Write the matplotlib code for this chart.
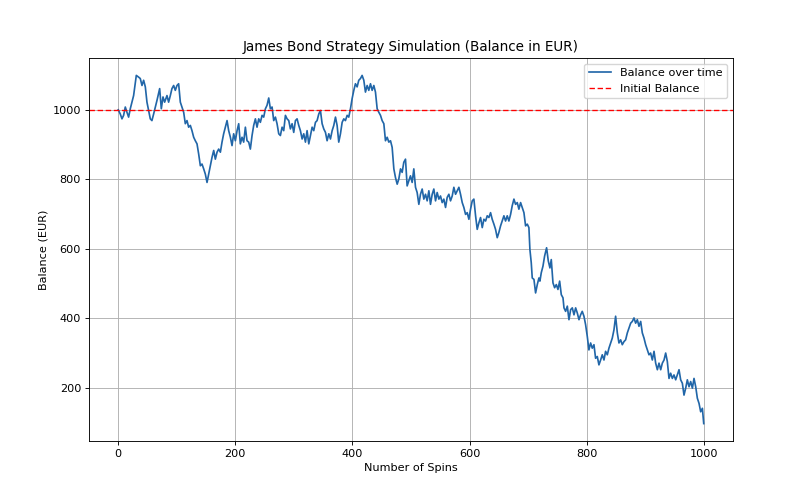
import matplotlib
matplotlib.use("Agg")
import matplotlib.pyplot as plt

# --- Data ---
spins = [
    0, 3.4, 6.3, 9.1, 12.0, 14.8, 17.7, 20.5, 26.2, 30.8, 34.8, 37.6, 40.5, 43.3,
    46.2, 49.0, 51.8, 54.7, 57.5, 60.4, 66.1, 70.7, 73.5, 76.4, 79.2, 83.2, 86.0,
    88.9, 91.7, 94.6, 97.4, 100.3, 103.1, 106.0, 108.8, 111.7, 114.5, 117.4,
    120.2, 123.1, 125.9, 128.8, 131.6, 134.5, 137.3, 140.2, 143.0, 145.9, 148.7,
    151.6, 154.4, 157.3, 160.1, 163.0, 165.8, 168.7, 171.5, 174.4, 177.2, 180.0,
    182.9, 185.8, 188.6, 191.5, 194.3, 197.1, 200.0, 202.9, 205.7, 208.5, 211.4,
    214.2, 217.1, 219.9, 222.8, 225.6, 228.5, 231.3, 234.2, 237.0, 239.9, 242.7,
    245.6, 248.4, 251.3, 254.1, 257.0, 259.8, 262.7, 265.5, 268.4, 271.2, 274.1,
    276.9, 279.8, 282.6, 285.5, 288.3, 291.2, 294.0, 296.9, 299.7, 302.6, 305.4,
    308.3, 311.1, 314.0, 316.8, 319.7, 322.5, 325.4, 328.2, 331.1, 333.9, 336.8,
    339.6, 342.5, 345.3, 348.2, 351.0, 353.9, 356.7, 359.6, 362.4, 365.3, 368.1,
    371.0, 373.8, 376.6, 379.5, 382.4, 385.2, 388.0, 390.9, 393.7, 396.6, 399.4,
    402.3, 405.1, 408.0, 410.8, 413.7, 416.5, 419.4, 422.2, 425.1, 427.9, 430.8,
    433.6, 436.5, 439.3, 442.2, 445.0, 447.9, 450.7, 453.6, 456.4, 459.3, 462.1,
    465.0, 467.8, 470.7, 473.5, 476.4, 479.2, 482.1, 484.9, 487.7, 490.6, 493.4,
    496.3, 499.1, 502.0, 504.8, 507.7, 510.5, 513.4, 516.2, 519.1, 521.9, 524.8,
    527.6, 530.5, 533.3, 536.2, 539.0, 541.9, 544.7, 547.6, 550.4, 553.3, 556.1,
    559.0, 561.8, 564.7, 567.5, 570.4, 573.2, 576.1, 578.9, 581.8, 584.6, 587.5,
    590.3, 593.2, 596.0, 598.9, 601.7, 604.6, 607.4, 610.3, 613.1, 616.0, 618.8,
    621.7, 624.5, 627.4, 630.2, 633.1, 635.9, 638.7, 641.6, 644.4, 647.3, 650.1,
    653.0, 655.8, 658.7, 661.5, 664.4, 667.2, 670.1, 672.9, 675.8, 678.6, 681.5,
    684.3, 687.2, 690.0, 692.9, 695.7, 698.6, 701.4, 703.1, 705.4, 707.1, 710.0,
    712.8, 715.7, 718.5, 720.2, 722.5, 725.4, 728.2, 731.6, 734.5, 737.3, 739.6,
    742.5, 745.3, 748.2, 751.0, 753.9, 756.7, 759.6, 761.3, 764.1, 767.0, 769.8,
    772.7, 775.5, 778.4, 781.2, 784.1, 786.9, 789.7, 792.5, 795.4, 798.2, 801.1,
    803.9, 806.8, 809.6, 812.5, 815.3, 818.2, 821.0, 823.9, 826.7, 829.6, 832.4,
    835.3, 838.1, 841.0, 843.8, 846.7, 849.5, 852.4, 855.2, 858.1, 860.9, 863.8,
    866.6, 869.5, 872.3, 875.2, 878.0, 880.9, 883.7, 886.6, 889.4, 892.3, 895.1,
    898.0, 900.8, 903.7, 906.5, 909.3, 912.2, 915.1, 917.9, 920.8, 923.6, 926.5,
    929.3, 932.2, 935.0, 937.8, 940.7, 943.5, 946.4, 949.2, 952.1, 954.9, 957.8,
    960.6, 963.5, 966.3, 969.2, 972.0, 974.9, 977.7, 980.6, 983.4, 986.3, 989.1,
    992.0, 994.8, 997.7, 1000,
]
balance = [
    1000, 988, 974, 984, 1008, 993, 979, 1003, 1041, 1099, 1094, 1090, 1070, 1085,
    1066, 1022, 998, 974, 969, 988, 1027, 1061, 1003, 1037, 1022, 1041, 1022,
    1041, 1061, 1070, 1056, 1070, 1075, 1022, 1008, 993, 960, 969,
    950, 955, 940, 921, 911, 902, 873, 839, 844, 830, 815,
    791, 815, 839, 863, 883, 858, 878, 887, 878, 907, 931,
    950, 969, 940, 921, 897, 931, 911, 940, 960, 902, 921,
    907, 950, 911, 907, 887, 926, 955, 974, 950, 974, 964,
    984, 979, 1003, 1013, 1034, 1003, 1008, 969, 979, 960, 931,
    926, 950, 940, 984, 974, 969, 945, 960, 935, 969, 974,
    955, 940, 916, 931, 907, 940, 902, 926, 950, 940, 964,
    969, 988, 998, 960, 945, 935, 911, 931, 916, 940, 955,
    979, 955, 907, 931, 964, 974, 969, 984, 979, 1003, 1032,
    1056, 1075, 1066, 1085, 1090, 1099, 1085, 1051, 1070, 1056, 1075,
    1056, 1070, 1051, 1003, 993, 984, 969, 960, 911, 921, 907,
    911, 892, 830, 805, 786, 801, 830, 820, 849, 858, 781,
    796, 810, 791, 830, 777, 762, 728, 757, 772, 743, 757,
    738, 767, 728, 757, 772, 738, 762, 743, 752, 733, 743,
    719, 748, 757, 738, 752, 777, 757, 767, 777, 757, 733,
    719, 699, 704, 685, 714, 738, 743, 695, 656, 675, 690,
    661, 685, 680, 695, 690, 704, 685, 671, 656, 632, 647,
    666, 680, 695, 680, 695, 680, 699, 724, 743, 728, 733,
    714, 733, 719, 704, 666, 671, 661, 598, 560, 516, 512,
    473, 497, 516, 507, 531, 550, 579, 603, 565, 545, 569,
    502, 488, 497, 483, 507, 468, 459, 430, 420, 435, 396,
    425, 430, 410, 430, 415, 396, 410, 420, 406, 382, 348,
    309, 329, 314, 324, 285, 290, 266, 280, 295, 280, 305,
    295, 314, 329, 343, 367, 406, 358, 329, 338, 324, 333,
    338, 358, 372, 386, 391, 401, 386, 396, 377, 391, 358,
    343, 324, 309, 295, 300, 280, 305, 271, 252, 271, 252,
    271, 280, 300, 276, 227, 242, 227, 237, 223, 237, 252,
    223, 213, 179, 199, 223, 203, 218, 199, 227, 203, 170,
    155, 131, 141, 97,
]
initial_balance = 1000

s = 0.811  # reference is a scaled-down 10-inch figure

fig = plt.figure(figsize=(8.11, 4.97), dpi=100)
ax = fig.add_axes([89 / 811, 1 - 441 / 497, (733 - 89) / 811, (441 - 58) / 497])

ax.plot(spins, balance, color="#2166a8", linewidth=1.5 * s, label="Balance over time")
ax.axhline(initial_balance, color="r", linestyle="--", linewidth=1.2 * s,
           dashes=(4, 2), label="Initial Balance")

ax.set_title("James Bond Strategy Simulation (Balance in EUR)", fontsize=12 * s, pad=6 * s)
ax.set_xlabel("Number of Spins", fontsize=10 * s, labelpad=4 * s)
ax.set_ylabel("Balance (EUR)", fontsize=10 * s, labelpad=4 * s)
ax.tick_params(labelsize=10 * s, width=0.8 * s, length=3.5 * s, pad=3.5 * s)
for sp in ax.spines.values():
    sp.set_linewidth(0.8 * s)
ax.grid(True, linewidth=0.8 * s)
ax.legend(fontsize=10 * s, loc="upper right")

plt.savefig("out.png", dpi=100)
